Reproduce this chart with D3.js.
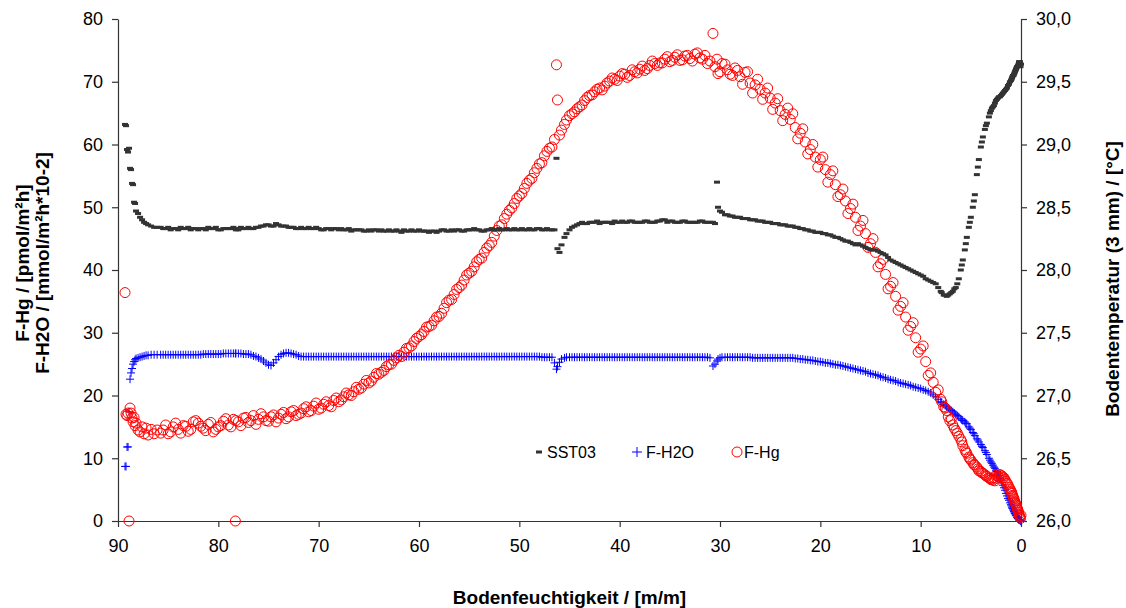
<!DOCTYPE html>
<html><head><meta charset="utf-8">
<script src="https://cdn.jsdelivr.net/npm/d3@7"></script>
<style>
body{margin:0;background:#fff}
svg{display:block}
text{font-family:Arial,"Liberation Sans",sans-serif;fill:#000}
</style>
</head><body><svg id="c" width="1126" height="608"></svg>
<script>
// ---- readings, pass 1: Bodenfeuchtigkeit (shared x for all three series)
const moisture = [
 89.3,89.2,89.1,89.0,88.9,88.8,88.7,88.6,88.5,88.4,88.3,88.2,88.0,87.8,87.6,87.4,87.2,87.0,86.7,86.4,86.1,
 85.5,85.0,84.5,84.0,83.5,83.0,82.5,82.0,81.5,81.0,
 80.5,80.0,79.5,79.0,78.5,78.3,78.0,77.5,77.0,76.5,
 76.0,75.5,75.0,74.5,74.0,73.5,73.0,72.5,72.0,71.5,
 71.0,70.5,70.0,69.5,69.0,68.5,68.0,67.5,67.0,66.5,
 66.0,65.5,65.0,64.5,64.0,63.5,63.0,62.5,62.0,61.5,
 61.0,60.5,60.0,59.5,59.0,58.5,58.0,57.5,57.0,56.5,
 56.0,55.5,55.0,54.5,54.0,53.5,53.0,52.5,52.0,51.5,
 51.0,50.5,50.0,49.5,49.0,48.5,48.0,47.5,47.0,46.5,
 46.3,46.2,46.0,45.8,45.5,45.3,45.0,44.5,44.0,43.5,
 43.0,42.5,42.0,41.5,41.0,40.5,40.0,39.5,39.0,38.5,
 38.0,37.5,37.0,36.5,36.0,35.5,35.0,34.5,34.0,33.5,
 33.0,32.5,32.0,31.5,31.0,30.7,30.5,30.3,30.2,30.0,
 29.8,29.5,29.0,28.5,28.0,27.5,27.0,26.5,26.0,25.5,
 25.0,24.5,24.0,23.5,23.0,22.5,22.0,21.5,21.0,20.5,
 20.0,19.5,19.0,18.5,18.0,17.5,17.0,16.5,16.0,15.5,
 15.0,14.5,14.0,13.5,13.0,12.5,12.0,11.5,11.0,10.5,
 10.0,9.5,9.0,
 8.5,8.0,7.7,7.4,7.1,6.8,6.5,6.2,6.0,5.8,5.6,5.4,5.2,5.0,4.8,4.6,4.4,4.2,4.0,3.8,
 3.6,3.4,3.2,3.0,2.8,2.6,2.4,2.2,2.0,1.8,1.6,1.4,1.2,1.0,0.9,0.8,0.7,0.6,0.5,0.4,
 0.3,0.25,0.2,0.15,0.1,0.05,0.0
];
const sst03 = [
 29.16,29.15,28.96,28.94,28.97,28.81,28.80,28.69,28.68,28.54,28.53,28.47,28.45,28.42,28.40,28.38,28.37,28.36,28.35,28.34,28.34,
 28.33,28.34,28.33,28.32,28.33,28.34,28.33,28.32,28.33,28.34,
 28.33,28.32,28.33,28.33,28.34,28.33,28.32,28.33,28.34,28.33,
 28.34,28.35,28.36,28.35,28.36,28.35,28.34,28.34,28.33,28.33,
 28.34,28.33,28.33,28.32,28.33,28.33,28.32,28.32,28.33,28.32,
 28.32,28.31,28.32,28.32,28.31,28.31,28.32,28.31,28.31,28.32,
 28.31,28.31,28.32,28.31,28.30,28.31,28.31,28.32,28.31,28.31,
 28.32,28.31,28.32,28.33,28.32,28.31,28.32,28.32,28.33,28.32,
 28.32,28.33,28.32,28.32,28.33,28.32,28.33,28.32,28.32,28.32,
 28.89,28.17,28.14,28.20,28.26,28.29,28.32,28.35,28.37,28.37,
 28.38,28.38,28.37,28.38,28.38,28.39,28.38,28.38,28.39,28.38,
 28.38,28.39,28.38,28.38,28.39,28.40,28.39,28.38,28.38,28.39,
 28.38,28.38,28.39,28.38,28.38,28.38,28.37,28.70,28.50,28.47,
 28.46,28.44,28.43,28.42,28.42,28.41,28.40,28.40,28.39,28.38,
 28.38,28.37,28.36,28.36,28.35,28.34,28.33,28.32,28.31,28.30,
 28.30,28.29,28.28,28.26,28.25,28.23,28.22,28.20,28.20,28.18,
 28.16,28.16,28.14,28.12,28.08,28.06,28.04,28.02,28.00,27.98,
 27.96,27.93,27.91,
 27.89,27.83,27.80,27.79,27.81,27.83,27.86,27.93,28.00,28.08,28.16,28.26,28.34,28.42,28.50,28.60,28.76,28.88,28.98,29.06,
 29.12,29.17,29.22,29.27,29.30,29.33,29.36,29.38,29.39,29.41,29.43,29.45,29.48,29.51,29.53,29.55,29.56,29.58,29.60,29.62,
 29.63,29.64,29.66,29.65,29.66,29.62,29.64
];
const fH2O = [
 8.7,8.7,11.8,11.8,17.4,22.6,23.6,24.3,25.0,25.4,25.7,25.9,26.0,26.1,26.2,26.3,26.4,26.4,26.5,26.5,26.5,
 26.5,26.5,26.5,26.5,26.5,26.5,26.5,26.5,26.6,26.6,
 26.6,26.6,26.7,26.7,26.7,26.7,26.7,26.6,26.6,26.3,
 26.0,25.5,24.9,25.2,26.2,26.7,26.8,26.6,26.3,26.2,
 26.2,26.2,26.2,26.2,26.2,26.2,26.2,26.2,26.2,26.2,
 26.2,26.2,26.2,26.2,26.2,26.2,26.2,26.2,26.2,26.2,
 26.2,26.2,26.2,26.2,26.2,26.2,26.2,26.2,26.2,26.2,
 26.2,26.2,26.2,26.2,26.2,26.2,26.2,26.2,26.2,26.2,
 26.2,26.2,26.2,26.2,26.2,26.2,26.2,26.1,26.1,25.2,
 24.2,24.6,25.3,25.8,26.0,26.1,26.1,26.1,26.1,26.1,
 26.1,26.1,26.1,26.1,26.1,26.1,26.1,26.1,26.1,26.1,
 26.1,26.1,26.1,26.1,26.1,26.1,26.1,26.1,26.1,26.1,
 26.1,26.1,26.1,26.1,26.0,24.7,25.0,25.5,25.8,26.0,
 26.1,26.1,26.1,26.1,26.1,26.1,26.1,26.0,26.0,26.0,
 26.0,26.0,26.0,26.0,26.0,25.9,25.8,25.7,25.6,25.5,
 25.4,25.2,25.1,24.9,24.8,24.6,24.4,24.2,24.0,23.8,
 23.5,23.3,23.0,22.8,22.5,22.3,22.0,21.8,21.6,21.3,
 21.1,20.8,20.4,
 19.8,19.0,18.6,18.2,17.8,17.4,17.0,16.6,16.3,16.0,15.8,15.5,15.0,14.6,14.1,13.6,13.1,12.6,12.2,11.7,
 11.2,10.6,10.0,9.4,8.9,8.4,7.9,7.2,6.5,5.7,4.9,4.0,3.3,2.6,2.2,1.9,1.5,1.2,0.9,0.6,
 0.4,0.3,0.2,0.15,0.1,0.05,0.0
];
const fHg = [
 36.4,17.0,16.8,17.2,0.0,18.0,17.2,16.4,15.8,16.5,15.2,15.6,14.5,14.2,15.0,13.9,14.8,13.7,14.6,13.9,14.5,
 14.5,13.9,15.0,14.6,15.2,14.3,15.8,15.6,14.8,15.4,
 14.2,15.0,15.9,15.3,16.2,0.0,15.8,16.4,15.7,16.8,
 16.2,16.6,15.9,16.9,16.4,17.3,16.6,17.6,17.0,17.9,
 17.4,18.3,17.8,18.6,18.4,19.2,19.0,19.8,20.1,20.6,
 21.0,21.8,22.0,22.9,23.4,24.0,24.9,25.6,26.4,26.9,
 27.6,28.6,29.4,30.2,31.0,31.9,32.6,33.9,35.2,36.1,
 37.2,38.4,39.5,40.5,41.7,42.8,43.9,45.4,47.0,48.2,
 49.5,50.6,51.8,53.0,54.3,55.5,56.9,58.2,59.4,60.8,
 72.7,67.1,61.5,62.3,63.2,63.9,64.6,65.2,66.0,67.0,
 67.8,68.4,69.0,69.3,70.1,70.4,70.9,71.2,71.0,71.6,
 72.0,71.8,72.6,72.9,73.0,73.6,73.2,73.9,73.4,74.1,
 73.7,74.4,73.8,74.2,73.3,77.7,72.4,73.6,71.3,71.6,
 72.9,72.8,71.2,72.2,70.8,71.5,69.8,69.5,68.8,68.2,
 67.4,66.6,65.4,64.8,64.0,62.7,61.8,60.4,59.2,58.0,
 57.6,56.0,55.2,53.6,52.0,51.0,49.8,48.4,47.0,45.8,
 44.2,42.8,41.0,39.3,37.4,35.8,34.2,32.5,31.0,29.2,
 27.4,25.4,23.6,
 20.5,19.4,18.2,17.6,16.0,15.3,14.4,13.5,13.0,12.0,11.4,10.8,10.2,9.7,9.3,8.9,8.6,8.0,7.9,7.6,
 7.4,7.1,6.9,6.6,6.5,6.4,6.8,7.0,7.2,6.9,6.6,6.0,5.4,4.8,4.4,3.9,3.5,3.0,2.6,2.1,
 1.7,1.4,1.1,0.8,0.6,0.4,0.9
];
// ---- readings, pass 2 (interleaved measurements)
const moisture2 = [
 85.75,85.25,84.75,84.25,83.75,83.25,82.75,82.25,81.75,81.25,
 80.75,80.25,79.75,79.25,78.75,78.25,77.75,77.25,76.75,76.25,
 75.75,75.25,74.75,74.25,73.75,73.25,72.75,72.25,71.75,71.25,
 70.75,70.25,69.75,69.25,68.75,68.25,67.75,67.25,66.75,66.25,
 65.75,65.25,64.75,64.25,63.75,63.25,62.75,62.25,61.75,61.25,
 60.75,60.25,59.75,59.25,58.75,58.25,57.75,57.25,56.75,56.25,
 55.75,55.25,54.75,54.25,53.75,53.25,52.75,52.25,51.75,51.25,
 50.75,50.25,49.75,49.25,48.75,48.25,47.75,47.25,46.75,44.75,
 44.25,43.75,43.25,42.75,42.25,41.75,41.25,40.75,40.25,39.75,
 39.25,38.75,38.25,37.75,37.25,36.75,36.25,35.75,35.25,34.75,
 34.25,33.75,33.25,32.75,32.25,31.75,31.25,29.25,28.75,28.25,
 27.75,27.25,26.75,26.25,25.75,25.25,24.75,24.25,23.75,23.25,
 22.75,22.25,21.75,21.25,20.75,20.25,19.75,19.25,18.75,18.25,
 17.75,17.25,16.75,16.25,15.75,15.25,14.75,14.25,13.75,13.25,
 12.75,12.25,11.75,11.25,10.75,10.25,9.75,9.25,8.75,8.25,
 7.9,7.55,7.25,6.95,6.65,6.35,5.9,5.5,5.1,4.7,4.3,3.9,3.5,3.1,
 2.9,2.7,2.5,2.3,2.1,1.9,1.7,1.5,1.3,1.1,0.95,0.85,0.75,0.65,0.55,0.45,0.35
];
const sst03b = [
 28.34,28.33,28.32,28.33,28.34,28.33,28.32,28.33,28.33,28.32,
 28.33,28.34,28.32,28.33,28.33,28.32,28.34,28.33,28.33,28.34,
 28.35,28.36,28.35,28.37,28.35,28.35,28.34,28.33,28.34,28.33,
 28.33,28.34,28.32,28.33,28.32,28.33,28.33,28.32,28.31,28.32,
 28.32,28.31,28.31,28.32,28.32,28.31,28.31,28.32,28.30,28.31,
 28.32,28.31,28.31,28.31,28.31,28.30,28.32,28.31,28.32,28.32,
 28.31,28.32,28.32,28.32,28.31,28.32,28.33,28.32,28.32,28.33,
 28.32,28.32,28.33,28.32,28.32,28.33,28.32,28.33,28.32,28.34,
 28.36,28.38,28.37,28.38,28.39,28.38,28.38,28.37,28.38,28.39,
 28.38,28.39,28.38,28.38,28.39,28.38,28.39,28.40,28.38,28.39,
 28.38,28.39,28.38,28.38,28.38,28.39,28.38,28.44,28.43,28.42,
 28.41,28.41,28.40,28.39,28.39,28.38,28.37,28.37,28.36,28.35,
 28.35,28.34,28.33,28.32,28.31,28.30,28.29,28.28,28.27,28.26,
 28.24,28.23,28.21,28.21,28.19,28.17,28.16,28.15,28.13,28.10,
 28.07,28.05,28.03,28.01,27.99,27.97,27.95,27.92,27.90,27.86,
 27.82,27.80,27.80,27.82,27.85,27.89,28.04,28.21,28.38,28.55,28.82,29.02,29.15,29.25,
 29.29,29.31,29.35,29.37,29.38,29.40,29.42,29.44,29.47,29.50,29.52,29.54,29.55,29.57,29.59,29.61,29.62
];
const fH2Ob = [
 26.5,26.5,26.5,26.5,26.5,26.5,26.5,26.5,26.5,26.6,
 26.6,26.6,26.6,26.7,26.7,26.7,26.7,26.6,26.5,26.2,
 25.8,25.2,24.8,25.7,26.5,26.8,26.7,26.5,26.2,26.2,
 26.2,26.2,26.2,26.2,26.2,26.2,26.2,26.2,26.2,26.2,
 26.2,26.2,26.2,26.2,26.2,26.2,26.2,26.2,26.2,26.2,
 26.2,26.2,26.2,26.2,26.2,26.2,26.2,26.2,26.2,26.2,
 26.2,26.2,26.2,26.2,26.2,26.2,26.2,26.2,26.2,26.2,
 26.2,26.2,26.2,26.2,26.2,26.2,26.1,26.1,26.1,26.1,
 26.1,26.1,26.1,26.1,26.1,26.1,26.1,26.1,26.1,26.1,
 26.1,26.1,26.1,26.1,26.1,26.1,26.1,26.1,26.1,26.1,
 26.1,26.1,26.1,26.1,26.1,26.1,26.1,26.1,26.1,26.1,
 26.1,26.1,26.0,26.0,26.0,26.0,26.0,26.0,26.0,26.0,
 26.0,25.9,25.8,25.7,25.6,25.4,25.3,25.2,25.0,24.9,
 24.7,24.5,24.3,24.1,23.9,23.6,23.4,23.2,22.9,22.6,
 22.4,22.1,21.9,21.7,21.4,21.2,20.9,20.6,20.1,19.4,
 18.9,18.4,18.0,17.6,17.2,16.8,16.1,15.6,14.8,13.9,12.9,11.9,10.9,9.7,
 9.2,8.6,8.1,7.5,6.8,6.1,5.3,4.4,3.6,2.9,2.4,2.0,1.7,1.3,1.0,0.8,0.5
];
const fHgb = [
 14.0,15.3,14.2,15.6,14.0,15.1,14.6,16.0,15.1,14.4,
 15.7,14.6,15.2,16.3,15.0,16.0,15.2,16.5,16.0,15.4,
 17.1,16.0,16.6,15.8,17.0,16.3,17.4,16.8,17.2,18.2,
 17.6,18.8,18.0,19.0,18.2,19.6,19.3,20.4,20.0,21.3,
 21.2,22.4,22.3,23.5,23.7,24.6,25.0,26.0,26.2,27.5,
 27.9,29.1,29.7,30.9,31.2,32.5,33.1,34.8,35.3,36.9,
 37.6,39.2,39.8,41.3,41.9,43.5,44.4,46.3,47.2,48.9,
 49.9,51.4,52.2,53.8,54.6,56.2,57.1,58.9,59.6,64.9,
 65.7,66.3,67.5,67.9,68.8,68.7,69.8,70.6,70.2,71.3,
 70.7,71.9,71.4,72.5,72.1,73.3,72.6,73.0,74.0,73.4,
 74.3,73.5,74.2,73.3,74.6,73.6,72.9,71.9,71.0,71.8,
 69.6,71.6,68.2,70.4,67.2,69.0,65.6,67.3,63.8,65.8,
 64.9,60.9,62.5,58.5,60.0,56.4,58.0,54.0,55.8,51.7,
 52.9,49.0,50.5,46.3,47.9,43.6,45.0,40.5,41.7,37.0,
 38.0,33.6,34.8,30.4,31.6,26.9,27.9,23.2,22.1,20.9,
 19.0,18.0,16.6,16.2,14.8,14.0,12.6,11.0,9.9,9.0,8.3,7.7,7.2,6.8,
 6.7,6.9,7.3,7.1,7.4,7.2,6.9,6.3,5.8,5.1,4.6,4.1,3.7,3.2,2.8,2.4,1.9
];
const xTicks = [90,80,70,60,50,40,30,20,10,0];
const leftTicks = [0,10,20,30,40,50,60,70,80];
const rightTicks = [26.0,26.5,27.0,27.5,28.0,28.5,29.0,29.5,30.0];
const seriesNames = ["SST03","F-H2O","F-Hg"];
const xTitle = "Bodenfeuchtigkeit / [m/m]";
const leftTitle = ["F-Hg / [pmol/m\u00B2h]","F-H2O / [mmol/m\u00B2h*10-2]"];
const rightTitle = "Bodentemperatur (3 mm) / [\u00B0C]";

const L=118, R=1021, T=19, B=521;
const svg = d3.select("#c");
const x = d3.scaleLinear().domain([90,0]).range([L,R]);
const yL = d3.scaleLinear().domain([0,80]).range([B,T]);
const yR = d3.scaleLinear().domain([26,30]).range([B,T]);
const axisColor = "#333";

function styleAxis(g){
  g.selectAll("path.domain").attr("stroke",axisColor).attr("stroke-width",1.2);
  g.selectAll(".tick line").attr("stroke",axisColor).attr("stroke-width",1.2);
  g.selectAll("text").attr("font-size",18).attr("fill","#000")
   .style("font-family","Arial,'Liberation Sans',sans-serif");
}
svg.append("g").attr("transform",`translate(0,${B})`)
  .call(d3.axisBottom(x).tickValues(xTicks).tickSize(6).tickSizeOuter(0).tickPadding(12).tickFormat(d3.format("d")))
  .call(styleAxis);
svg.append("g").attr("transform",`translate(${L},0)`)
  .call(d3.axisLeft(yL).tickValues(leftTicks).tickSize(6).tickSizeOuter(0).tickPadding(9).tickFormat(d3.format("d")))
  .call(styleAxis);
svg.append("g").attr("transform",`translate(${R},0)`)
  .call(d3.axisRight(yR).tickValues(rightTicks).tickSize(6).tickSizeOuter(0).tickPadding(9).tickFormat(d=>d.toFixed(1).replace(".",",")))
  .call(styleAxis);

function rows(xs, s, h, g){
  const n = Math.min(xs.length, s.length, h.length, g.length);
  return d3.range(n).map(i=>({m:xs[i], sst:s[i], h2o:h[i], hg:g[i]}));
}
const data = rows(moisture, sst03, fH2O, fHg).concat(rows(moisture2, sst03b, fH2Ob, fHgb));

const plot = svg.append("g");
plot.append("g").selectAll("path").data(data).join("path")
  .attr("transform",d=>`translate(${x(d.m)},${yL(d.h2o)})`)
  .attr("d","M-4,0H4M0,-4V4").attr("stroke","#0000ff").attr("stroke-width",1).attr("fill","none");
plot.append("g").selectAll("circle").data(data).join("circle")
  .attr("cx",d=>x(d.m)).attr("cy",d=>yL(d.hg)).attr("r",5)
  .attr("fill","none").attr("stroke","#ff0000").attr("stroke-width",1);
plot.append("g").selectAll("rect").data(data).join("rect")
  .attr("x",d=>x(d.m)-3).attr("y",d=>yR(d.sst)-1.5).attr("width",6).attr("height",3)
  .attr("fill","#333");

// axis titles
svg.append("text").attr("x",(L+R)/2).attr("y",604).attr("text-anchor","middle")
  .attr("font-size",19).attr("font-weight","bold").text(xTitle);
const lt = svg.append("text").attr("transform","translate(0,263) rotate(-90)")
  .attr("text-anchor","middle").attr("font-size",19).attr("font-weight","bold");
lt.append("tspan").attr("x",0).attr("y",29).text(leftTitle[0]);
lt.append("tspan").attr("x",0).attr("y",49).text(leftTitle[1]);
svg.append("text").attr("transform","translate(1119,279) rotate(-90)")
  .attr("text-anchor","middle").attr("font-size",19).attr("font-weight","bold").text(rightTitle);

// legend
const lg = svg.append("g").attr("transform","translate(536,452)");
lg.append("rect").attr("x",0).attr("y",-1.5).attr("width",6).attr("height",3).attr("fill","#333");
lg.append("text").attr("x",11).attr("y",6).attr("font-size",16).text(seriesNames[0]);
lg.append("path").attr("d","M96,0H106M101,-5V5").attr("stroke","#0000ff").attr("stroke-width",1);
lg.append("text").attr("x",110).attr("y",6).attr("font-size",16).text(seriesNames[1]);
lg.append("circle").attr("cx",201).attr("cy",0).attr("r",5).attr("fill","none").attr("stroke","#ff0000");
lg.append("text").attr("x",208).attr("y",6).attr("font-size",16).text(seriesNames[2]);
</script>
</body></html>
